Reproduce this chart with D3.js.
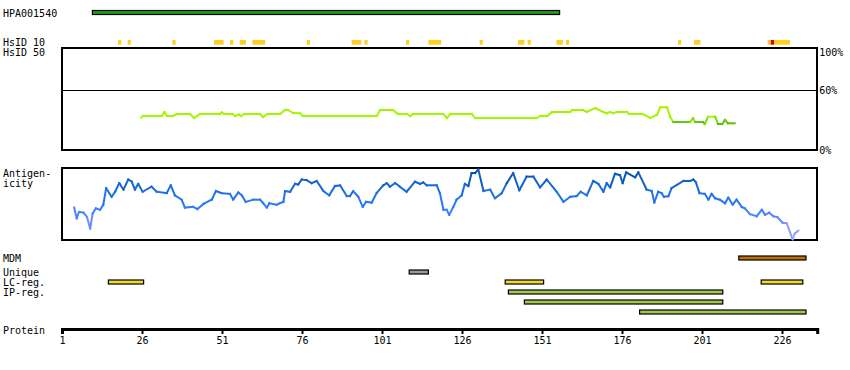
<!DOCTYPE html>
<html>
<head>
<meta charset="utf-8">
<script src="https://cdn.jsdelivr.net/npm/d3@7"></script>
<style>
  body { margin: 0; background: #fff; }
  text { font-family: "DejaVu Sans Mono", monospace; font-size: 10px; fill: #000; }
</style>
</head>
<body>
<script>
// sequence axis
const proteinEnd = 237;
const tickValues = [1, 26, 51, 76, 101, 126, 151, 176, 201, 226];

// antibody / tracks, [start, end] residues
const hpaRange = [[11, 156]];
const hsid10 = [[19,19],[22,22],[36,36],[49,51],[54,54],[57,58],[61,64],[78,78],[92,94],[96,96],
                [109,109],[116,119],[132,132],[144,145],[147,147],[156,157],[159,159],[194,194],
                [199,200],[222,222],[224,228]];
const hsid10High = [[223,223]];
const mdm = [[213, 233]];
const unique = [[110, 115]];
const lcReg = [[16, 26], [140, 151], [220, 232]];
const ipReg = [[141, 207], [146, 207], [182, 233]];

// percent identity, [residue, %]
const identity = [
  [25.7,32.3],[26.3,34],[32.3,34],[33,38],[33.8,34],[35.7,34],[36.9,36],[41,36],[42.3,32],[44.1,36],
  [50.4,36],[50.9,37.7],[51.6,36],[54.4,36],[55.1,34],[56.3,35.5],[57,34],[57.9,36],[62.9,36],[63.8,33],
  [65.1,36],[69.1,36],[70.7,40],[71.6,40],[73.2,37],[75.4,36.7],[76.3,34],[99.4,34],[100.4,40],[104.4,40],
  [106,36],[108.8,36],[109.8,34],[110.7,36],[120.1,36],[121.3,32],[122.3,36],[129.1,36],[130.1,32],[149.4,32],
  [150.4,34],[152.6,34],[154.1,38],[159.8,38],[160.4,40],[163.8,40],[165,38],[167.6,42],[170.1,38],[171.3,36.7],
  [172.3,38],[173.2,36.7],[174.4,38],[177.6,38],[178.2,36],[182.6,36],[184.8,32],[187,35.3],[187.9,42.7],[190.1,42.7],
  [191,33.3],[192,28],[197.3,28],[198.2,32],[198.8,28],[201.3,28],[201.9,26],[202.9,33.3],[205.1,33.3],[206,26],
  [207.3,26],[208.2,30],[209.1,26.7],[211.2,26.7]
];

// antigenicity, [residue, relative score 0-100]
const antigenicity = [
  [4.8,45],[5.6,30],[6.3,39],[7.7,38],[8.8,32],[9.8,16],[10.6,37],[11.6,44],[12.9,42],[13.9,49],
  [14.8,72],[16.5,60],[17.6,67],[18.9,79],[20.2,70],[21.7,84],[22.8,81],[23.8,70],[24.8,78],[26.2,67],
  [29,74],[30.6,67],[33.7,65],[35,76],[36.3,62],[38.4,56],[39.4,45],[42,46],[43.3,43],[45.2,50],
  [47.8,56],[49.1,68],[50.9,65],[53.5,64],[54.5,56],[56.1,66],[57.2,62],[58.4,53],[60.8,56],[62.9,56],
  [63.9,51],[65,45],[65.8,51],[68.1,49],[69.1,51],[70.2,53],[70.7,68],[72.3,67],[73.8,78],[74.8,77],
  [75.9,84],[77.5,83],[79,79],[80.6,82],[82.7,68],[84.5,62],[86.3,75],[87.9,76],[90,61],[91,61],
  [92,68],[93.6,60],[95,46],[96,53],[97.8,52],[99.3,65],[101.4,76],[102.5,79],[103.5,74],[105.1,79],
  [106.6,74],[108.7,67],[111.3,81],[112.9,78],[113.9,80],[115,76],[118.1,76],[119.1,65],[120.2,42],[121.2,42],
  [122,35],[123.3,46],[124.3,56],[125.9,62],[126.9,78],[128,75],[129,93],[130.1,93],[131.1,98],[132.7,68],
  [134.8,70],[136.3,58],[138.4,65],[140,79],[142,93],[143.9,69],[146.2,88],[148.3,88],[150.4,73],[152.5,84],
  [155.6,67],[157.7,53],[159.8,60],[161.8,61],[163.1,67],[165,62],[167,82],[168.6,78],[170.2,67],[171.2,79],
  [172.3,73],[173.8,92],[175.4,90],[176.2,79],[177.3,94],[180.1,87],[181.1,94],[183.7,70],[185.3,68],[186.1,52],
  [187.3,67],[188.4,65],[189.1,60],[190.5,61],[191.5,72],[195.2,82],[197.3,82],[198.3,84],[199.1,80],[200.2,65],
  [201.9,64],[203,56],[204,64],[205.1,58],[206.6,56],[208.2,51],[209.2,59],[210.6,49],[211.8,56],[213.4,46],
  [214.4,44],[216,36],[218.1,33],[219.7,42],[220.7,35],[222,38],[223.3,33],[224.5,32],[226.2,24],[227.5,23],
  [229.3,1],[230,9],[231.1,13]
];

const width = 850, height = 370;
const plotLeft = 62, plotRight = 817.2;

const svg = d3.select("body").append("svg")
    .attr("width", width)
    .attr("height", height);

const x = d3.scaleLinear().domain([1, proteinEnd]).range([plotLeft, plotRight]);
const half = (x(2) - x(1)) / 2;

const yId = d3.scaleLinear().domain([0, 60]).range([150, 90]);
const yAg = d3.scaleLinear().domain([0, 100]).range([240, 168]);

const idColor = d3.scaleLinear()
    .domain([26, 29, 31, 42])
    .range(["#5cb800", "#6acc10", "#99ff00", "#aaee00"])
    .clamp(true);
const agColor = d3.scaleLinear()
    .domain([0, 25, 45, 70, 100])
    .range(["#b0a8ff", "#6a8cff", "#2f7dff", "#1a6ee0", "#004a96"])
    .clamp(true);

// left labels
const labels = [
  {t: "HPA001540", y: 16.5}, {t: "HsID 10", y: 46}, {t: "HsID 50", y: 56},
  {t: "Antigen-", y: 177}, {t: "icity", y: 187}, {t: "MDM", y: 262},
  {t: "Unique", y: 276}, {t: "LC-reg.", y: 286}, {t: "IP-reg.", y: 296},
  {t: "Protein", y: 333.5}
];
svg.selectAll(".lbl")
    .data(labels)
    .join("text")
    .attr("class", "lbl")
    .attr("x", 3)
    .attr("y", d => d.y)
    .text(d => d.t);

// range bars helper
function bars(data, y, h, fill, stroke) {
  svg.append("g").selectAll("rect")
      .data(data)
      .join("rect")
      .attr("x", d => x(d[0]) - half)
      .attr("width", d => x(d[1]) - x(d[0]) + 2 * half)
      .attr("y", y)
      .attr("height", h)
      .style("fill", fill)
      .style("stroke", stroke ? "#000" : "none")
      .style("stroke-width", 1.2);
}

bars(hpaRange, 10.5, 4, "#1a9e1a", true);
bars(hsid10, 40, 4.7, "#ffcc22", false);
bars(hsid10High, 40, 4.7, "#dd0000", false);

// identity panel
svg.append("rect")
    .attr("x", plotLeft).attr("y", 48)
    .attr("width", plotRight - plotLeft).attr("height", 150 - 48)
    .attr("shape-rendering", "crispEdges")
    .style("fill", "none").style("stroke", "#000").style("stroke-width", 1.5);
svg.append("line")
    .attr("x1", plotLeft).attr("x2", plotRight)
    .attr("y1", yId(60) + 0.5).attr("y2", yId(60) + 0.5)
    .attr("shape-rendering", "crispEdges")
    .style("stroke", "#000").style("stroke-width", 1);
svg.selectAll(".pct")
    .data([{t: "100%", y: 56}, {t: "60%", y: yId(60) + 4}, {t: "0%", y: yId(0) + 4}])
    .join("text")
    .attr("class", "pct")
    .attr("x", plotRight + 2)
    .attr("y", d => d.y)
    .text(d => d.t);

function segLine(data, yScale, color, g) {
  const pairs = d3.pairs(data);
  g.selectAll("line")
      .data(pairs)
      .join("line")
      .attr("x1", d => x(d[0][0])).attr("y1", d => yScale(d[0][1]))
      .attr("x2", d => x(d[1][0])).attr("y2", d => yScale(d[1][1]))
      .style("stroke", d => color((d[0][1] + d[1][1]) / 2))
      .style("stroke-width", 2)
      .style("stroke-linecap", "square");
}
segLine(identity, yId, idColor, svg.append("g"));

// antigenicity panel
svg.append("rect")
    .attr("x", plotLeft).attr("y", 168)
    .attr("width", plotRight - plotLeft).attr("height", 240 - 168)
    .attr("shape-rendering", "crispEdges")
    .style("fill", "none").style("stroke", "#000").style("stroke-width", 1.5);
segLine(antigenicity, yAg, agColor, svg.append("g"));

// feature tracks
bars(mdm, 256, 4, "#c07000", true);
bars(unique, 270, 4, "#999999", true);
bars(lcReg, 280, 4, "#f0dc28", true);
ipReg.forEach((d, i) => bars([d], 290 + i * 10, 4, "#a0c84e", true));

// protein axis
const axis = svg.append("g")
    .attr("transform", "translate(0,329)")
    .call(d3.axisBottom(x).tickValues(tickValues).tickSize(5).tickSizeOuter(5));
axis.select(".domain").style("stroke-width", 3);
axis.selectAll(".tick line").style("stroke-width", 2);
axis.selectAll(".tick text")
    .style("font-family", "DejaVu Sans Mono, monospace")
    .style("font-size", "10px");
</script>
</body>
</html>
